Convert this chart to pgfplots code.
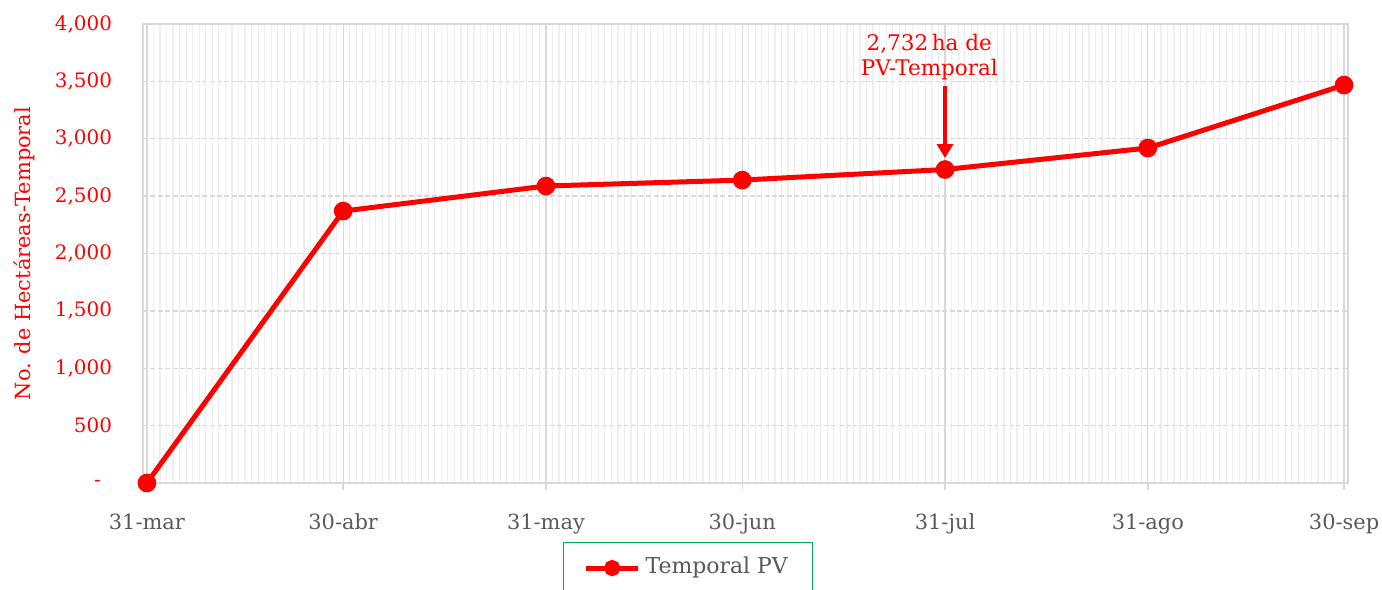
\documentclass[border=0pt]{standalone}
\usepackage{fontspec}
\setmainfont{DejaVu Serif}
\usepackage{pgfplots}
\pgfplotsset{compat=1.18}
\usetikzlibrary{arrows.meta}
\definecolor{lred}{HTML}{FF0000}
\definecolor{tgray}{HTML}{595959}
\definecolor{ggray}{HTML}{D9D9D9}
\definecolor{mgray}{HTML}{EFEFEF}
\definecolor{lgreen}{HTML}{00B050}
\begin{document}
\begin{tikzpicture}
\begin{axis}[
  scale only axis, width=602.5bp, height=229.5bp,
  xmin=-0.6, xmax=183.6, ymin=0, ymax=4000,
  clip=false,
  xtick={0,30,61,91,122,153,183},
  xticklabels={31-mar,30-abr,31-may,30-jun,31-jul,31-ago,30-sep},
  minor xtick={0,...,183},
  ytick={0,500,...,4000},
  yticklabels={{-\hspace{5.5bp}\mbox{}},500,{1,000},{1,500},{2,000},{2,500},{3,000},{3,500},{4,000}},
  xtick pos=lower, ytick pos=left,
  xmajorgrids, xminorgrids, ymajorgrids,
  major x grid style={draw=ggray, line width=0.6bp},
  minor x grid style={draw=mgray, line width=0.6bp},
  major y grid style={draw=ggray, line width=0.7bp, dash pattern=on 2.5bp off 1.2bp},
  axis line style={draw=ggray, line width=0.7bp},
  tick align=outside,
  major tick length=3.5bp,
  minor tick length=0pt,
  xtick style={draw=ggray, line width=0.7bp},
  ytick style={draw=none},
  yticklabel style={font=\fontsize{10}{12}\selectfont, text=lred, xshift=-8.5bp},
  xticklabel style={font=\fontsize{10.5}{12}\selectfont, text=tgray, yshift=-8.5bp},
  ylabel={No. de Hectáreas-Temporal},
  every axis y label/.style={at={(axis description cs:-0.0988,0.5)}, rotate=90, anchor=center, text=lred, font=\fontsize{10.5}{12}\selectfont},
  legend style={at={(0.3485,-0.1285)}, anchor=north west, draw=lgreen, line width=0.75bp,
    text=tgray, font=\fontsize{11}{13}\selectfont, inner xsep=10bp, inner ysep=4.5bp,
    nodes={inner sep=2.5bp, text depth=14bp}},
  legend image code/.code={\draw[#1, mark size=2.8bp, mark repeat=2, mark phase=2] plot coordinates {(0bp,5.5bp) (13bp,5.5bp) (26bp,5.5bp)};},
]
\addplot[color=lred, line width=2.5bp, mark=*, mark size=3.4bp, mark options={solid, fill=lred, draw=lred}]
  coordinates {(0,0) (30,2370) (61,2588) (91,2640) (122,2732) (153,2919) (183,3468)};
\addlegendentry{Temporal PV}
\draw[-{Triangle[width=8bp,length=7bp]}, lred, line width=2bp] (axis cs:122,3460) -- (axis cs:122,2832);
\node[text=lred, align=center, font=\fontsize{10.8}{12.5}\selectfont] at (axis cs:119.6,3708) {2,732\,ha de\\PV-Temporal};
\coordinate (bl) at (rel axis cs:0,0);
\coordinate (tr) at (rel axis cs:1,1);
\end{axis}
\pgfresetboundingbox
\path ([shift={(-71.5bp,-53.5bp)}]bl) rectangle ([shift={(17bp,12bp)}]tr);
\end{tikzpicture}
\end{document}
